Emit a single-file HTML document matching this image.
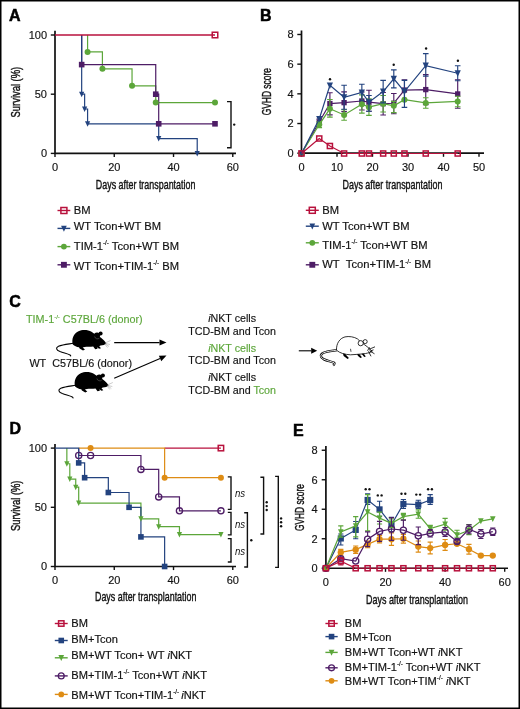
<!DOCTYPE html><html><head><meta charset="utf-8"><style>html,body{margin:0;padding:0;background:#fff;}body{width:520px;height:709px;overflow:hidden;font-family:"Liberation Sans",sans-serif;}svg{display:block;will-change:transform;}</style></head><body><svg width="520" height="709" viewBox="0 0 520 709" font-family="&quot;Liberation Sans&quot;, sans-serif"><style>text{paint-order:stroke;}</style><rect x="0" y="0" width="520" height="709" fill="#fff"/><text x="9" y="20.8" font-size="16" text-anchor="start" font-weight="bold" fill="#000" stroke="#000" stroke-width="0.5">A</text><path d="M55,30.8L55,153.4L236,153.4" fill="none" stroke="#111" stroke-width="1.7"/><path d="M50.8,153.4L55,153.4" stroke="#111" stroke-width="1.4"/><text x="47" y="157.3" font-size="11" text-anchor="end" font-weight="normal" fill="#111" stroke="#111" stroke-width="0.15">0</text><path d="M50.8,94.2L55,94.2" stroke="#111" stroke-width="1.4"/><text x="47" y="98.1" font-size="11" text-anchor="end" font-weight="normal" fill="#111" stroke="#111" stroke-width="0.15">50</text><path d="M50.8,35L55,35" stroke="#111" stroke-width="1.4"/><text x="47" y="38.9" font-size="11" text-anchor="end" font-weight="normal" fill="#111" stroke="#111" stroke-width="0.15">100</text><path d="M55,153.4L55,157" stroke="#111" stroke-width="1.4"/><text x="55" y="171.35" font-size="11" text-anchor="middle" font-weight="normal" fill="#111" stroke="#111" stroke-width="0.15">0</text><path d="M114.26,153.4L114.26,157" stroke="#111" stroke-width="1.4"/><text x="114.26" y="171.35" font-size="11" text-anchor="middle" font-weight="normal" fill="#111" stroke="#111" stroke-width="0.15">20</text><path d="M173.52,153.4L173.52,157" stroke="#111" stroke-width="1.4"/><text x="173.52" y="171.35" font-size="11" text-anchor="middle" font-weight="normal" fill="#111" stroke="#111" stroke-width="0.15">40</text><path d="M232.78,153.4L232.78,157" stroke="#111" stroke-width="1.4"/><text x="232.78" y="171.35" font-size="11" text-anchor="middle" font-weight="normal" fill="#111" stroke="#111" stroke-width="0.15">60</text><text transform="translate(20.2,92.1) rotate(-90)" x="0" y="0" font-size="13" text-anchor="middle" textLength="50.6" lengthAdjust="spacingAndGlyphs" fill="#111" stroke="#111" stroke-width="0.4">Survival (%)</text><text x="95.8" y="188.6" font-size="12.8" text-anchor="start" textLength="99.6" lengthAdjust="spacingAndGlyphs" fill="#111" stroke="#111" stroke-width="0.4">Days after transpantation</text><path d="M87.59,35L87.59,35L87.59,51.93L102.41,51.93L102.41,68.86L132.04,68.86L132.04,85.79L155.74,85.79L155.74,102.61L215,102.61" fill="none" stroke="#5ca63a" stroke-width="1.2"/><path d="M81.67,35L81.67,35L81.67,64.6L155.74,64.6L155.74,94.2L158.7,94.2L158.7,123.8L215,123.8" fill="none" stroke="#4e1d66" stroke-width="1.2"/><path d="M81.67,35L81.67,35L81.67,94.2L84.63,94.2L84.63,109L87.59,109L87.59,123.8L158.7,123.8L158.7,138.6L197.22,138.6L197.22,153.4" fill="none" stroke="#23437f" stroke-width="1.2"/><path d="M55,35L215,35" fill="none" stroke="#b8113c" stroke-width="1.7"/><circle cx="87.59" cy="51.93" r="3" fill="#5ca63a"/><circle cx="102.41" cy="68.86" r="3" fill="#5ca63a"/><circle cx="132.04" cy="85.79" r="3" fill="#5ca63a"/><circle cx="155.74" cy="102.61" r="3" fill="#5ca63a"/><circle cx="215" cy="102.61" r="3" fill="#5ca63a"/><rect x="78.87" y="61.8" width="5.6" height="5.6" fill="#4e1d66"/><rect x="152.94" y="91.4" width="5.6" height="5.6" fill="#4e1d66"/><rect x="155.9" y="121" width="5.6" height="5.6" fill="#4e1d66"/><rect x="212.2" y="121" width="5.6" height="5.6" fill="#4e1d66"/><path d="M79.07,91.7L84.27,91.7L81.67,97.2Z" fill="#23437f"/><path d="M82.03,106.5L87.23,106.5L84.63,112Z" fill="#23437f"/><path d="M84.99,121.3L90.19,121.3L87.59,126.8Z" fill="#23437f"/><path d="M156.1,136.1L161.3,136.1L158.7,141.6Z" fill="#23437f"/><path d="M194.62,150.9L199.82,150.9L197.22,156.4Z" fill="#23437f"/><rect x="212.24" y="32.24" width="5.52" height="5.52" fill="none" stroke="#b8113c" stroke-width="1.5"/><path d="M227,101.6L231,101.6L231,147.8L227,147.8" fill="none" stroke="#111" stroke-width="1.4"/><circle cx="234.2" cy="124.6" r="1.2" fill="#111"/><path d="M57.5,210.5L70.3,210.5" stroke="#b8113c" stroke-width="1.4"/><rect x="60.9" y="207.5" width="6" height="6" fill="none" stroke="#b8113c" stroke-width="1.5"/><text x="73.8" y="213.6" font-size="11.2" fill="#111" stroke="#111" stroke-width="0.18">BM</text><path d="M57.5,228.4L70.3,228.4" stroke="#23437f" stroke-width="1.4"/><path d="M61.04,225.65L66.76,225.65L63.9,231.7Z" fill="#23437f"/><text x="73.8" y="229.7" font-size="11.2" fill="#111" stroke="#111" stroke-width="0.18">WT Tcon+WT BM</text><path d="M57.5,246.6L70.3,246.6" stroke="#5ca63a" stroke-width="1.4"/><circle cx="63.9" cy="246.6" r="2.91" fill="#5ca63a"/><text x="73.8" y="249.9" font-size="11.2" fill="#111" stroke="#111" stroke-width="0.18">TIM-1<tspan font-size="6.3" dy="-4.7">-/-</tspan><tspan dy="4.7"> Tcon+WT BM</tspan></text><path d="M57.5,264.8L70.3,264.8" stroke="#4e1d66" stroke-width="1.4"/><rect x="60.96" y="261.86" width="5.88" height="5.88" fill="#4e1d66"/><text x="73.8" y="269.9" font-size="11.2" fill="#111" stroke="#111" stroke-width="0.18">WT Tcon+TIM-1<tspan font-size="6.3" dy="-4.7">-/-</tspan><tspan dy="4.7"> BM</tspan></text><text x="260" y="20.8" font-size="16" text-anchor="start" font-weight="bold" fill="#000" stroke="#000" stroke-width="0.5">B</text><path d="M301.5,30.5L301.5,153.2L484,153.2" fill="none" stroke="#111" stroke-width="1.7"/><path d="M297.3,153.2L301.5,153.2" stroke="#111" stroke-width="1.4"/><text x="293.5" y="157.1" font-size="11" text-anchor="end" font-weight="normal" fill="#111" stroke="#111" stroke-width="0.15">0</text><path d="M297.3,123.52L301.5,123.52" stroke="#111" stroke-width="1.4"/><text x="293.5" y="127.42" font-size="11" text-anchor="end" font-weight="normal" fill="#111" stroke="#111" stroke-width="0.15">2</text><path d="M297.3,93.84L301.5,93.84" stroke="#111" stroke-width="1.4"/><text x="293.5" y="97.74" font-size="11" text-anchor="end" font-weight="normal" fill="#111" stroke="#111" stroke-width="0.15">4</text><path d="M297.3,64.16L301.5,64.16" stroke="#111" stroke-width="1.4"/><text x="293.5" y="68.06" font-size="11" text-anchor="end" font-weight="normal" fill="#111" stroke="#111" stroke-width="0.15">6</text><path d="M297.3,34.48L301.5,34.48" stroke="#111" stroke-width="1.4"/><text x="293.5" y="38.38" font-size="11" text-anchor="end" font-weight="normal" fill="#111" stroke="#111" stroke-width="0.15">8</text><path d="M301.5,153.2L301.5,156.8" stroke="#111" stroke-width="1.4"/><text x="301.5" y="171.15" font-size="11" text-anchor="middle" font-weight="normal" fill="#111" stroke="#111" stroke-width="0.15">0</text><path d="M337,153.2L337,156.8" stroke="#111" stroke-width="1.4"/><text x="337" y="171.15" font-size="11" text-anchor="middle" font-weight="normal" fill="#111" stroke="#111" stroke-width="0.15">10</text><path d="M372.5,153.2L372.5,156.8" stroke="#111" stroke-width="1.4"/><text x="372.5" y="171.15" font-size="11" text-anchor="middle" font-weight="normal" fill="#111" stroke="#111" stroke-width="0.15">20</text><path d="M408,153.2L408,156.8" stroke="#111" stroke-width="1.4"/><text x="408" y="171.15" font-size="11" text-anchor="middle" font-weight="normal" fill="#111" stroke="#111" stroke-width="0.15">30</text><path d="M443.5,153.2L443.5,156.8" stroke="#111" stroke-width="1.4"/><text x="443.5" y="171.15" font-size="11" text-anchor="middle" font-weight="normal" fill="#111" stroke="#111" stroke-width="0.15">40</text><path d="M479,153.2L479,156.8" stroke="#111" stroke-width="1.4"/><text x="479" y="171.15" font-size="11" text-anchor="middle" font-weight="normal" fill="#111" stroke="#111" stroke-width="0.15">50</text><text transform="translate(271,91.7) rotate(-90)" x="0" y="0" font-size="13" text-anchor="middle" textLength="47.2" lengthAdjust="spacingAndGlyphs" fill="#111" stroke="#111" stroke-width="0.4">GVHD score</text><text x="342.5" y="188.6" font-size="12.8" text-anchor="start" textLength="99.9" lengthAdjust="spacingAndGlyphs" fill="#111" stroke="#111" stroke-width="0.4">Days after transpantation</text><path d="M319.25,119L319.25,122M316.45,119L322.05,119M319.25,122L319.25,125M316.45,125L322.05,125" stroke="#4e1d66" stroke-width="1.15" fill="none"/><path d="M329.9,92.75L329.9,103.55M327.1,92.75L332.7,92.75M329.9,103.55L329.9,114.8M327.1,114.8L332.7,114.8" stroke="#4e1d66" stroke-width="1.15" fill="none"/><path d="M344.1,91.85L344.1,102.65M341.3,91.85L346.9,91.85M344.1,102.65L344.1,111.65M341.3,111.65L346.9,111.65" stroke="#4e1d66" stroke-width="1.15" fill="none"/><path d="M361.85,92L361.85,101M359.05,92L364.65,92M361.85,101L361.85,110M359.05,110L364.65,110" stroke="#4e1d66" stroke-width="1.15" fill="none"/><path d="M368.95,90.2L368.95,102.2M366.15,90.2L371.75,90.2M368.95,102.2L368.95,111.2M366.15,111.2L371.75,111.2" stroke="#4e1d66" stroke-width="1.15" fill="none"/><path d="M383.15,92.45L383.15,103.7M380.35,92.45L385.95,92.45M383.15,103.7L383.15,114.95M380.35,114.95L385.95,114.95" stroke="#4e1d66" stroke-width="1.15" fill="none"/><path d="M393.8,93.5L393.8,103.25M391,93.5L396.6,93.5M393.8,103.25L393.8,113.75M391,113.75L396.6,113.75" stroke="#4e1d66" stroke-width="1.15" fill="none"/><path d="M404.45,79.7L404.45,90.05M401.65,79.7L407.25,79.7M404.45,90.05L404.45,99.8M401.65,99.8L407.25,99.8" stroke="#4e1d66" stroke-width="1.15" fill="none"/><path d="M425.75,74.6L425.75,89.6M422.95,74.6L428.55,74.6M425.75,89.6L425.75,104.6M422.95,104.6L428.55,104.6" stroke="#4e1d66" stroke-width="1.15" fill="none"/><path d="M457.7,79.7L457.7,93.95M454.9,79.7L460.5,79.7M457.7,93.95L457.7,108.2M454.9,108.2L460.5,108.2" stroke="#4e1d66" stroke-width="1.15" fill="none"/><polyline points="301.5,153.5 319.25,122 329.9,103.55 344.1,102.65 361.85,101 368.95,102.2 383.15,103.7 393.8,103.25 404.45,90.05 425.75,89.6 457.7,93.95" fill="none" stroke="#4e1d66" stroke-width="1.2"/><rect x="298.84" y="150.84" width="5.32" height="5.32" fill="#4e1d66"/><rect x="316.59" y="119.34" width="5.32" height="5.32" fill="#4e1d66"/><rect x="327.24" y="100.89" width="5.32" height="5.32" fill="#4e1d66"/><rect x="341.44" y="99.99" width="5.32" height="5.32" fill="#4e1d66"/><rect x="359.19" y="98.34" width="5.32" height="5.32" fill="#4e1d66"/><rect x="366.29" y="99.54" width="5.32" height="5.32" fill="#4e1d66"/><rect x="380.49" y="101.04" width="5.32" height="5.32" fill="#4e1d66"/><rect x="391.14" y="100.59" width="5.32" height="5.32" fill="#4e1d66"/><rect x="401.79" y="87.39" width="5.32" height="5.32" fill="#4e1d66"/><rect x="423.09" y="86.94" width="5.32" height="5.32" fill="#4e1d66"/><rect x="455.04" y="91.29" width="5.32" height="5.32" fill="#4e1d66"/><path d="M319.25,121.55L319.25,124.55M316.45,121.55L322.05,121.55M319.25,124.55L319.25,127.55M316.45,127.55L322.05,127.55" stroke="#5ca63a" stroke-width="1.15" fill="none"/><path d="M329.9,99.5L329.9,108.8M327.1,99.5L332.7,99.5M329.9,108.8L329.9,117.05M327.1,117.05L332.7,117.05" stroke="#5ca63a" stroke-width="1.15" fill="none"/><path d="M344.1,109.7L344.1,114.95M341.3,109.7L346.9,109.7M344.1,114.95L344.1,120.2M341.3,120.2L346.9,120.2" stroke="#5ca63a" stroke-width="1.15" fill="none"/><path d="M361.85,94.85L361.85,104.15M359.05,94.85L364.65,94.85M361.85,104.15L361.85,113.15M359.05,113.15L364.65,113.15" stroke="#5ca63a" stroke-width="1.15" fill="none"/><path d="M368.95,98.9L368.95,107.15M366.15,98.9L371.75,98.9M368.95,107.15L368.95,115.4M366.15,115.4L371.75,115.4" stroke="#5ca63a" stroke-width="1.15" fill="none"/><path d="M383.15,95.45L383.15,103.7M380.35,95.45L385.95,95.45M383.15,103.7L383.15,111.95M380.35,111.95L385.95,111.95" stroke="#5ca63a" stroke-width="1.15" fill="none"/><path d="M393.8,101.3L393.8,105.8M391,101.3L396.6,101.3M393.8,105.8L393.8,112.55M391,112.55L396.6,112.55" stroke="#5ca63a" stroke-width="1.15" fill="none"/><path d="M425.75,97.7L425.75,102.95M422.95,97.7L428.55,97.7M425.75,102.95L425.75,108.2M422.95,108.2L428.55,108.2" stroke="#5ca63a" stroke-width="1.15" fill="none"/><path d="M457.7,96.2L457.7,101.45M454.9,96.2L460.5,96.2M457.7,101.45L457.7,106.7M454.9,106.7L460.5,106.7" stroke="#5ca63a" stroke-width="1.15" fill="none"/><polyline points="301.5,153.5 319.25,124.55 329.9,108.8 344.1,114.95 361.85,104.15 368.95,107.15 383.15,103.7 393.8,105.8 404.45,99.65 425.75,102.95 457.7,101.45" fill="none" stroke="#5ca63a" stroke-width="1.2"/><circle cx="301.5" cy="153.5" r="3" fill="#5ca63a"/><circle cx="319.25" cy="124.55" r="3" fill="#5ca63a"/><circle cx="329.9" cy="108.8" r="3" fill="#5ca63a"/><circle cx="344.1" cy="114.95" r="3" fill="#5ca63a"/><circle cx="361.85" cy="104.15" r="3" fill="#5ca63a"/><circle cx="368.95" cy="107.15" r="3" fill="#5ca63a"/><circle cx="383.15" cy="103.7" r="3" fill="#5ca63a"/><circle cx="393.8" cy="105.8" r="3" fill="#5ca63a"/><circle cx="404.45" cy="99.65" r="3" fill="#5ca63a"/><circle cx="425.75" cy="102.95" r="3" fill="#5ca63a"/><circle cx="457.7" cy="101.45" r="3" fill="#5ca63a"/><path d="M344.1,85.25L344.1,97.25M341.3,85.25L346.9,85.25M344.1,97.25L344.1,109.25M341.3,109.25L346.9,109.25" stroke="#23437f" stroke-width="1.15" fill="none"/><path d="M361.85,84.2L361.85,92.45M359.05,84.2L364.65,84.2M361.85,92.45L361.85,100.7M359.05,100.7L364.65,100.7" stroke="#23437f" stroke-width="1.15" fill="none"/><path d="M368.95,95.45L368.95,102.2M366.15,95.45L371.75,95.45M368.95,102.2L368.95,111.2M366.15,111.2L371.75,111.2" stroke="#23437f" stroke-width="1.15" fill="none"/><path d="M383.15,80.3L383.15,91.55M380.35,80.3L385.95,80.3M383.15,91.55L383.15,102.8M380.35,102.8L385.95,102.8" stroke="#23437f" stroke-width="1.15" fill="none"/><path d="M393.8,69.8L393.8,78.8M391,69.8L396.6,69.8M393.8,78.8L393.8,87.8M391,87.8L396.6,87.8" stroke="#23437f" stroke-width="1.15" fill="none"/><path d="M404.45,80.3L404.45,91.55M401.65,80.3L407.25,80.3M404.45,91.55L404.45,107.3M401.65,107.3L407.25,107.3" stroke="#23437f" stroke-width="1.15" fill="none"/><path d="M425.75,53.6L425.75,65.6M422.95,53.6L428.55,53.6M425.75,65.6L425.75,76.1M422.95,76.1L428.55,76.1" stroke="#23437f" stroke-width="1.15" fill="none"/><path d="M457.7,65.75L457.7,73.25M454.9,65.75L460.5,65.75M457.7,73.25L457.7,80.75M454.9,80.75L460.5,80.75" stroke="#23437f" stroke-width="1.15" fill="none"/><polyline points="301.5,153.5 319.25,119 329.9,85.4 344.1,97.25 361.85,92.45 368.95,102.2 383.15,91.55 393.8,78.8 404.45,91.55 425.75,65.6 457.7,73.25" fill="none" stroke="#23437f" stroke-width="1.2"/><path d="M298.38,150.5L304.62,150.5L301.5,157.1Z" fill="#23437f"/><path d="M316.13,116L322.37,116L319.25,122.6Z" fill="#23437f"/><path d="M326.78,82.4L333.02,82.4L329.9,89Z" fill="#23437f"/><path d="M340.98,94.25L347.22,94.25L344.1,100.85Z" fill="#23437f"/><path d="M358.73,89.45L364.97,89.45L361.85,96.05Z" fill="#23437f"/><path d="M365.83,99.2L372.07,99.2L368.95,105.8Z" fill="#23437f"/><path d="M380.03,88.55L386.27,88.55L383.15,95.15Z" fill="#23437f"/><path d="M390.68,75.8L396.92,75.8L393.8,82.4Z" fill="#23437f"/><path d="M401.33,88.55L407.57,88.55L404.45,95.15Z" fill="#23437f"/><path d="M422.63,62.6L428.87,62.6L425.75,69.2Z" fill="#23437f"/><path d="M454.58,70.25L460.82,70.25L457.7,76.85Z" fill="#23437f"/><polyline points="301.5,153.5 319.25,138.5 329.9,146 344.1,153.5 361.85,153.5 368.95,153.5 383.15,153.5 393.8,153.5 404.45,153.5 425.75,153.5 457.7,153.5" fill="none" stroke="#b8113c" stroke-width="1.2"/><rect x="298.95" y="150.95" width="5.1" height="5.1" fill="none" stroke="#b8113c" stroke-width="1.5"/><rect x="316.7" y="135.95" width="5.1" height="5.1" fill="none" stroke="#b8113c" stroke-width="1.5"/><rect x="327.35" y="143.45" width="5.1" height="5.1" fill="none" stroke="#b8113c" stroke-width="1.5"/><rect x="341.55" y="150.95" width="5.1" height="5.1" fill="none" stroke="#b8113c" stroke-width="1.5"/><rect x="359.3" y="150.95" width="5.1" height="5.1" fill="none" stroke="#b8113c" stroke-width="1.5"/><rect x="366.4" y="150.95" width="5.1" height="5.1" fill="none" stroke="#b8113c" stroke-width="1.5"/><rect x="380.6" y="150.95" width="5.1" height="5.1" fill="none" stroke="#b8113c" stroke-width="1.5"/><rect x="391.25" y="150.95" width="5.1" height="5.1" fill="none" stroke="#b8113c" stroke-width="1.5"/><rect x="401.9" y="150.95" width="5.1" height="5.1" fill="none" stroke="#b8113c" stroke-width="1.5"/><rect x="423.2" y="150.95" width="5.1" height="5.1" fill="none" stroke="#b8113c" stroke-width="1.5"/><rect x="455.15" y="150.95" width="5.1" height="5.1" fill="none" stroke="#b8113c" stroke-width="1.5"/><circle cx="330" cy="79.2" r="1.2" fill="#111"/><circle cx="393.7" cy="64.7" r="1.2" fill="#111"/><circle cx="426.1" cy="48.5" r="1.2" fill="#111"/><circle cx="457.9" cy="60.8" r="1.2" fill="#111"/><path d="M305.8,210.3L318.8,210.3" stroke="#b8113c" stroke-width="1.4"/><rect x="309.3" y="207.3" width="6" height="6" fill="none" stroke="#b8113c" stroke-width="1.5"/><text x="322.2" y="213.7" font-size="11.2" fill="#111" stroke="#111" stroke-width="0.18">BM</text><path d="M305.8,226.2L318.8,226.2" stroke="#23437f" stroke-width="1.4"/><path d="M309.44,223.45L315.16,223.45L312.3,229.5Z" fill="#23437f"/><text x="322.2" y="229.6" font-size="11.2" fill="#111" stroke="#111" stroke-width="0.18">WT Tcon+WT BM</text><path d="M305.8,242.8L318.8,242.8" stroke="#5ca63a" stroke-width="1.4"/><circle cx="312.3" cy="242.8" r="2.91" fill="#5ca63a"/><text x="322.2" y="248.6" font-size="11.2" fill="#111" stroke="#111" stroke-width="0.18">TIM-1<tspan font-size="6.3" dy="-4.7">-/-</tspan><tspan dy="4.7"> Tcon+WT BM</tspan></text><path d="M305.8,264.8L318.8,264.8" stroke="#4e1d66" stroke-width="1.4"/><rect x="309.36" y="261.86" width="5.88" height="5.88" fill="#4e1d66"/><text x="322.2" y="268.2" font-size="11.2" fill="#111" stroke="#111" stroke-width="0.18">WT&#160;&#160;Tcon+TIM-1<tspan font-size="6.3" dy="-4.7">-/-</tspan><tspan dy="4.7"> BM</tspan></text><text x="9.3" y="307" font-size="16" text-anchor="start" font-weight="bold" fill="#000" stroke="#000" stroke-width="0.5">C</text><text x="26" y="322.7" font-size="10.8" fill="#5ca63a" stroke="#5ca63a" stroke-width="0.15">TIM-1<tspan font-size="6" dy="-4">-/-</tspan><tspan dy="4"> C57BL/6 (donor)</tspan></text><text x="29.4" y="367.3" font-size="10.8" fill="#111" stroke="#111" stroke-width="0.15">WT&#160;&#160;C57BL/6 (donor)</text><g transform="translate(72,330)"><path d="M0.8,14.5 C-0.6,9 1.5,3.5 6.5,1.2 C10,-0.4 16,-0.4 19.5,1.8 L22.7,4.1 C26,5.5 29,7.5 31,9.5 C32.5,11 33.5,12.3 34.4,13.4 C33,14.6 31,15.2 28.5,15.5 L27.2,16.2 L29,18.3 L27,18.8 L25.2,17.3 L25.5,18.8 L23.2,19.2 L21.2,16.6 C18.5,16.8 15,16.9 12.5,17.1 L10.6,17.4 L13,19.6 L11,20.4 L7.6,18.4 L7,17.3 C4.5,17 2.5,16 0.8,14.5 Z" fill="#000"/><circle cx="25" cy="5.6" r="3.1" fill="#000"/><circle cx="28.6" cy="3.6" r="2.0" fill="#000"/><path d="M22.6,6.5 A3,3 0 0 0 27.4,8.2" fill="none" stroke="#777" stroke-width="0.5"/><path d="M1.5,13.3 C-4,14.2 -9,14.6 -13.5,16.2 C-16.5,17.5 -16,20 -12,21.6 C-8,23 -4,24 -2,25 C-1.2,25.5 -1.2,26 -1.5,26.4" fill="none" stroke="#000" stroke-width="1.1"/><path d="M33.5,12.8 L38.5,10.5 M33.8,13.6 L38,14.5 M32.8,14 L35.5,17.5 M33,13.5 L37,16.5" stroke="#aaa" stroke-width="0.6"/></g><g transform="translate(74.3,372)"><path d="M0.8,14.5 C-0.6,9 1.5,3.5 6.5,1.2 C10,-0.4 16,-0.4 19.5,1.8 L22.7,4.1 C26,5.5 29,7.5 31,9.5 C32.5,11 33.5,12.3 34.4,13.4 C33,14.6 31,15.2 28.5,15.5 L27.2,16.2 L29,18.3 L27,18.8 L25.2,17.3 L25.5,18.8 L23.2,19.2 L21.2,16.6 C18.5,16.8 15,16.9 12.5,17.1 L10.6,17.4 L13,19.6 L11,20.4 L7.6,18.4 L7,17.3 C4.5,17 2.5,16 0.8,14.5 Z" fill="#000"/><circle cx="25" cy="5.6" r="3.1" fill="#000"/><circle cx="28.6" cy="3.6" r="2.0" fill="#000"/><path d="M22.6,6.5 A3,3 0 0 0 27.4,8.2" fill="none" stroke="#777" stroke-width="0.5"/><path d="M1.5,13.3 C-4,14.2 -9,14.6 -13.5,16.2 C-16.5,17.5 -16,20 -12,21.6 C-8,23 -4,24 -2,25 C-1.2,25.5 -1.2,26 -1.5,26.4" fill="none" stroke="#000" stroke-width="1.1"/><path d="M33.5,12.8 L38.5,10.5 M33.8,13.6 L38,14.5 M32.8,14 L35.5,17.5 M33,13.5 L37,16.5" stroke="#aaa" stroke-width="0.6"/></g><path d="M114.2,342.6L159.5,342.6" stroke="#000" stroke-width="1.1"/><path d="M166.5,342.6L159.5,345.6L159.5,339.6Z" fill="#000"/><path d="M114.2,378.3L160.08,358.39" stroke="#000" stroke-width="1.1"/><path d="M166.5,355.6L161.27,361.14L158.88,355.64Z" fill="#000"/><path d="M298.8,350.8L311.2,350.8" stroke="#000" stroke-width="1.1"/><path d="M317.2,350.8L311.2,353.8L311.2,347.8Z" fill="#000"/><text x="232.1" y="321.7" font-size="10.7" text-anchor="middle" fill="#111" stroke="#111" stroke-width="0.15"><tspan font-style="italic">i</tspan>NKT cells</text><text x="232.1" y="334.5" font-size="10.7" text-anchor="middle" fill="#111" stroke="#111" stroke-width="0.15">TCD-BM and Tcon</text><text x="232.1" y="351.5" font-size="10.7" text-anchor="middle" fill="#5ca63a" stroke="#5ca63a" stroke-width="0.15"><tspan font-style="italic">i</tspan>NKT cells</text><text x="232.1" y="364.3" font-size="10.7" text-anchor="middle" fill="#111" stroke="#111" stroke-width="0.15">TCD-BM and Tcon</text><text x="232.1" y="380.9" font-size="10.7" text-anchor="middle" fill="#111" stroke="#111" stroke-width="0.15"><tspan font-style="italic">i</tspan>NKT cells</text><text x="232.1" y="393.6" font-size="10.7" text-anchor="middle" fill="#111" stroke="#111" stroke-width="0.15">TCD-BM and <tspan fill="#5ca63a" stroke="#5ca63a">Tcon</tspan></text><g transform="translate(336,336.3)"><path d="M1,13.8 C-4,14.6 -9,15 -12.5,16.5 C-16,18 -16,21 -12.5,22.8 C-9,24.5 -4,25.5 -1.8,26.5 C-1.2,27.3 -1.8,28.3 -2.8,29.2" fill="none" stroke="#000" stroke-width="2.3"/><path d="M1,13.8 C-4,14.6 -9,15 -12.5,16.5 C-16,18 -16,21 -12.5,22.8 C-9,24.5 -4,25.5 -1.8,26.5 C-1.2,27.3 -1.8,28.3 -2.8,29.2" fill="none" stroke="#fff" stroke-width="0.9"/><path d="M0.5,13.9 C0.2,7.5 3.5,2 9,0.6 C13,-0.3 18,0.5 21.5,2.6 L24,5 C27,7.5 31,10 33,12 C34.5,13.3 35.5,14.2 36.2,15 C34.5,16.3 32,16.7 29.5,17.2 L27,17.6 C23,17.9 19,18.3 14.5,18.5 C9,18.2 4,17 0.5,13.9 Z" fill="#fff" stroke="#000" stroke-width="0.8"/><circle cx="24.7" cy="6.9" r="2.6" fill="#fff" stroke="#000" stroke-width="0.8"/><circle cx="29.2" cy="5.3" r="2.0" fill="#fff" stroke="#000" stroke-width="0.8"/><path d="M14.5,12.5 L15,15.5" stroke="#000" stroke-width="0.7"/><path d="M7,17.3 L9.2,17.8 L12.9,21.6 L11.6,22.6 L7.6,19.6Z M21.3,17.6 L23.4,17.9 L26,21 L24.4,21.7 L21.8,19.4Z M25.6,17.4 L27.6,17.3 L29.8,20.1 L28.2,20.8Z" fill="#000"/><path d="M33,13 L39,10.5 M33.5,14.5 L38.5,17.5 M32.5,15 L35,20 M31.5,14.5 L33.5,11 M34,15 L37.5,13.5" stroke="#000" stroke-width="0.8"/></g><text x="9.5" y="434" font-size="16" text-anchor="start" font-weight="bold" fill="#000" stroke="#000" stroke-width="0.5">D</text><path d="M55,444L55,566.5L236,566.5" fill="none" stroke="#111" stroke-width="1.7"/><path d="M50.8,566.5L55,566.5" stroke="#111" stroke-width="1.4"/><text x="47" y="570.4" font-size="11" text-anchor="end" font-weight="normal" fill="#111" stroke="#111" stroke-width="0.15">0</text><path d="M50.8,507.3L55,507.3" stroke="#111" stroke-width="1.4"/><text x="47" y="511.2" font-size="11" text-anchor="end" font-weight="normal" fill="#111" stroke="#111" stroke-width="0.15">50</text><path d="M50.8,448.1L55,448.1" stroke="#111" stroke-width="1.4"/><text x="47" y="452" font-size="11" text-anchor="end" font-weight="normal" fill="#111" stroke="#111" stroke-width="0.15">100</text><path d="M55,566.5L55,570.1" stroke="#111" stroke-width="1.4"/><text x="55" y="584.45" font-size="11" text-anchor="middle" font-weight="normal" fill="#111" stroke="#111" stroke-width="0.15">0</text><path d="M114.26,566.5L114.26,570.1" stroke="#111" stroke-width="1.4"/><text x="114.26" y="584.45" font-size="11" text-anchor="middle" font-weight="normal" fill="#111" stroke="#111" stroke-width="0.15">20</text><path d="M173.52,566.5L173.52,570.1" stroke="#111" stroke-width="1.4"/><text x="173.52" y="584.45" font-size="11" text-anchor="middle" font-weight="normal" fill="#111" stroke="#111" stroke-width="0.15">40</text><path d="M232.78,566.5L232.78,570.1" stroke="#111" stroke-width="1.4"/><text x="232.78" y="584.45" font-size="11" text-anchor="middle" font-weight="normal" fill="#111" stroke="#111" stroke-width="0.15">60</text><text transform="translate(20.2,505.8) rotate(-90)" x="0" y="0" font-size="13" text-anchor="middle" textLength="50.6" lengthAdjust="spacingAndGlyphs" fill="#111" stroke="#111" stroke-width="0.4">Survival (%)</text><text x="95" y="601.4" font-size="12.8" text-anchor="start" textLength="101.4" lengthAdjust="spacingAndGlyphs" fill="#111" stroke="#111" stroke-width="0.4">Days after transplantation</text><path d="M164.63,448.1L220.93,448.1" fill="none" stroke="#b8113c" stroke-width="1.3"/><path d="M78.7,448.1L78.7,448.1L78.7,455.5L140.93,455.5L140.93,469.41L158.7,469.41L158.7,496.88L179.45,496.88L179.45,510.85L220.93,510.85" fill="none" stroke="#4e1d66" stroke-width="1.2"/><path d="M66.85,448.1L66.85,448.1L66.85,463.73L69.81,463.73L69.81,479.12L75.74,479.12L75.74,487.17L78.7,487.17L78.7,503.04L140.93,503.04L140.93,518.78L158.7,518.78L158.7,526.72L179.45,526.72L179.45,534.53L220.93,534.53" fill="none" stroke="#5ca63a" stroke-width="1.2"/><path d="M78.7,448.1L164.63,448.1L164.63,477.7L220.93,477.7" fill="none" stroke="#de8c14" stroke-width="1.2"/><path d="M55,448.1L78.7,448.1L78.7,462.9L84.63,462.9L84.63,477.7L108.33,477.7L108.33,492.5L129.07,492.5L129.07,507.3L140.93,507.3L140.93,536.9L164.63,536.9L164.63,566.5" fill="none" stroke="#23437f" stroke-width="1.2"/><rect x="218.23" y="445.4" width="5.4" height="5.4" fill="none" stroke="#b8113c" stroke-width="1.5"/><circle cx="78.7" cy="455.5" r="3.1" fill="none" stroke="#4e1d66" stroke-width="1.3"/><circle cx="90.56" cy="455.5" r="3.1" fill="none" stroke="#4e1d66" stroke-width="1.3"/><circle cx="140.93" cy="469.41" r="3.1" fill="none" stroke="#4e1d66" stroke-width="1.3"/><circle cx="158.7" cy="496.88" r="3.1" fill="none" stroke="#4e1d66" stroke-width="1.3"/><circle cx="179.45" cy="510.85" r="3.1" fill="none" stroke="#4e1d66" stroke-width="1.3"/><circle cx="220.93" cy="510.85" r="3.1" fill="none" stroke="#4e1d66" stroke-width="1.3"/><path d="M64.25,461.23L69.45,461.23L66.85,466.73Z" fill="#5ca63a"/><path d="M67.22,476.62L72.41,476.62L69.81,482.12Z" fill="#5ca63a"/><path d="M73.14,484.67L78.34,484.67L75.74,490.17Z" fill="#5ca63a"/><path d="M76.1,500.54L81.3,500.54L78.7,506.04Z" fill="#5ca63a"/><path d="M138.33,516.28L143.53,516.28L140.93,521.78Z" fill="#5ca63a"/><path d="M156.1,524.22L161.3,524.22L158.7,529.72Z" fill="#5ca63a"/><path d="M176.85,532.03L182.05,532.03L179.45,537.53Z" fill="#5ca63a"/><path d="M218.33,532.03L223.53,532.03L220.93,537.53Z" fill="#5ca63a"/><circle cx="90.56" cy="448.1" r="3" fill="#de8c14"/><circle cx="164.63" cy="477.7" r="3" fill="#de8c14"/><circle cx="220.93" cy="477.7" r="3" fill="#de8c14"/><rect x="75.9" y="460.1" width="5.6" height="5.6" fill="#23437f"/><rect x="81.83" y="474.9" width="5.6" height="5.6" fill="#23437f"/><rect x="105.53" y="489.7" width="5.6" height="5.6" fill="#23437f"/><rect x="126.27" y="504.5" width="5.6" height="5.6" fill="#23437f"/><rect x="138.13" y="534.1" width="5.6" height="5.6" fill="#23437f"/><rect x="161.83" y="563.7" width="5.6" height="5.6" fill="#23437f"/><path d="M227.8,476.9L231,476.9L231,509.4L227.8,509.4" fill="none" stroke="#111" stroke-width="1.4"/><path d="M227.8,512.4L231,512.4L231,534.9L227.8,534.9" fill="none" stroke="#111" stroke-width="1.4"/><path d="M227.8,538.6L231,538.6L231,562L227.8,562" fill="none" stroke="#111" stroke-width="1.4"/><path d="M244.2,512.8L247.4,512.8L247.4,567L244.2,567" fill="none" stroke="#111" stroke-width="1.4"/><path d="M260.4,477.2L263.6,477.2L263.6,534L260.4,534" fill="none" stroke="#111" stroke-width="1.4"/><path d="M275.1,476.4L278.3,476.4L278.3,567.4L275.1,567.4" fill="none" stroke="#111" stroke-width="1.4"/><text x="234.9" y="497.4" font-size="11" text-anchor="start" font-weight="normal" fill="#111" font-style="italic" textLength="10.2" lengthAdjust="spacingAndGlyphs">ns</text><text x="234.9" y="527.8" font-size="11" text-anchor="start" font-weight="normal" fill="#111" font-style="italic" textLength="10.2" lengthAdjust="spacingAndGlyphs">ns</text><text x="234.9" y="554.9" font-size="11" text-anchor="start" font-weight="normal" fill="#111" font-style="italic" textLength="10.2" lengthAdjust="spacingAndGlyphs">ns</text><circle cx="251.3" cy="540.2" r="1.2" fill="#111"/><circle cx="266.7" cy="502.2" r="1.2" fill="#111"/><circle cx="266.7" cy="506.1" r="1.2" fill="#111"/><circle cx="266.7" cy="510" r="1.2" fill="#111"/><circle cx="281.1" cy="518.4" r="1.2" fill="#111"/><circle cx="281.1" cy="522.3" r="1.2" fill="#111"/><circle cx="281.1" cy="526.2" r="1.2" fill="#111"/><path d="M54.8,623.5L67.7,623.5" stroke="#b8113c" stroke-width="1.4"/><rect x="58.55" y="620.8" width="5.4" height="5.4" fill="none" stroke="#b8113c" stroke-width="1.5"/><text x="71.3" y="626.8" font-size="11.1" fill="#111" stroke="#111" stroke-width="0.18">BM</text><path d="M54.8,640.5L67.7,640.5" stroke="#23437f" stroke-width="1.4"/><rect x="58.45" y="637.7" width="5.6" height="5.6" fill="#23437f"/><text x="71.3" y="643" font-size="11.1" fill="#111" stroke="#111" stroke-width="0.18">BM+Tcon</text><path d="M54.8,657.8L67.7,657.8" stroke="#5ca63a" stroke-width="1.4"/><path d="M58.39,655.05L64.11,655.05L61.25,661.1Z" fill="#5ca63a"/><text x="71.3" y="658.8" font-size="11.1" fill="#111" stroke="#111" stroke-width="0.18">BM+WT Tcon+ WT <tspan font-style="italic">i</tspan>NKT</text><path d="M54.8,675.9L67.7,675.9" stroke="#4e1d66" stroke-width="1.4"/><circle cx="61.25" cy="675.9" r="2.94" fill="none" stroke="#4e1d66" stroke-width="1.3"/><text x="71.3" y="678.9" font-size="11.1" fill="#111" stroke="#111" stroke-width="0.18">BM+TIM-1<tspan font-size="6.3" dy="-4.7">-/-</tspan><tspan dy="4.7"> Tcon+WT </tspan><tspan font-style="italic">i</tspan>NKT</text><path d="M54.8,694.4L67.7,694.4" stroke="#de8c14" stroke-width="1.4"/><circle cx="61.25" cy="694.4" r="2.85" fill="#de8c14"/><text x="71.3" y="699.1" font-size="11.1" fill="#111" stroke="#111" stroke-width="0.18">BM+WT Tcon+TIM-1<tspan font-size="6.3" dy="-4.7">-/-</tspan><tspan dx="2.0" dy="4.7" font-style="italic">i</tspan>NKT</text><text x="293" y="435.9" font-size="16" text-anchor="start" font-weight="bold" fill="#000" stroke="#000" stroke-width="0.5">E</text><path d="M325.9,446L325.9,568.25L508,568.25" fill="none" stroke="#111" stroke-width="1.7"/><path d="M321.7,568.25L325.9,568.25" stroke="#111" stroke-width="1.4"/><text x="317.5" y="572.15" font-size="11" text-anchor="end" font-weight="normal" fill="#111" stroke="#111" stroke-width="0.15">0</text><path d="M321.7,538.75L325.9,538.75" stroke="#111" stroke-width="1.4"/><text x="317.5" y="542.65" font-size="11" text-anchor="end" font-weight="normal" fill="#111" stroke="#111" stroke-width="0.15">2</text><path d="M321.7,509.25L325.9,509.25" stroke="#111" stroke-width="1.4"/><text x="317.5" y="513.15" font-size="11" text-anchor="end" font-weight="normal" fill="#111" stroke="#111" stroke-width="0.15">4</text><path d="M321.7,479.75L325.9,479.75" stroke="#111" stroke-width="1.4"/><text x="317.5" y="483.65" font-size="11" text-anchor="end" font-weight="normal" fill="#111" stroke="#111" stroke-width="0.15">6</text><path d="M321.7,450.25L325.9,450.25" stroke="#111" stroke-width="1.4"/><text x="317.5" y="454.15" font-size="11" text-anchor="end" font-weight="normal" fill="#111" stroke="#111" stroke-width="0.15">8</text><path d="M325.9,568.25L325.9,571.85" stroke="#111" stroke-width="1.4"/><text x="325.9" y="586.2" font-size="11" text-anchor="middle" font-weight="normal" fill="#111" stroke="#111" stroke-width="0.15">0</text><path d="M385.5,568.25L385.5,571.85" stroke="#111" stroke-width="1.4"/><text x="385.5" y="586.2" font-size="11" text-anchor="middle" font-weight="normal" fill="#111" stroke="#111" stroke-width="0.15">20</text><path d="M445.1,568.25L445.1,571.85" stroke="#111" stroke-width="1.4"/><text x="445.1" y="586.2" font-size="11" text-anchor="middle" font-weight="normal" fill="#111" stroke="#111" stroke-width="0.15">40</text><path d="M504.7,568.25L504.7,571.85" stroke="#111" stroke-width="1.4"/><text x="504.7" y="586.2" font-size="11" text-anchor="middle" font-weight="normal" fill="#111" stroke="#111" stroke-width="0.15">60</text><text transform="translate(304.1,507.6) rotate(-90)" x="0" y="0" font-size="13" text-anchor="middle" textLength="47" lengthAdjust="spacingAndGlyphs" fill="#111" stroke="#111" stroke-width="0.4">GVHD score</text><text x="366" y="603.6" font-size="12.8" text-anchor="start" textLength="102" lengthAdjust="spacingAndGlyphs" fill="#111" stroke="#111" stroke-width="0.4">Days after transplantation</text><path d="M340.8,534.03L340.8,538.46M338.2,534.03L343.4,534.03M340.8,538.46L340.8,544.95M338.2,544.95L343.4,544.95" stroke="#23437f" stroke-width="1.15" fill="none"/><path d="M355.7,521.49L355.7,529.9M353.1,521.49L358.3,521.49M355.7,529.9L355.7,538.75M353.1,538.75L358.3,538.75" stroke="#23437f" stroke-width="1.15" fill="none"/><path d="M367.62,493.76L367.62,499.96M365.02,493.76L370.22,493.76M367.62,499.96L367.62,504.38M365.02,504.38L370.22,504.38" stroke="#23437f" stroke-width="1.15" fill="none"/><path d="M379.54,501.28L379.54,509.4M376.94,501.28L382.14,501.28M379.54,509.4L379.54,516.33M376.94,516.33L382.14,516.33" stroke="#23437f" stroke-width="1.15" fill="none"/><path d="M391.46,517.36L391.46,524.74M388.86,517.36L394.06,517.36M391.46,524.74L391.46,532.11M388.86,532.11L394.06,532.11" stroke="#23437f" stroke-width="1.15" fill="none"/><path d="M403.38,499.51L403.38,503.94M400.78,499.51L405.98,499.51M403.38,503.94L403.38,508.37M400.78,508.37L405.98,508.37" stroke="#23437f" stroke-width="1.15" fill="none"/><path d="M418.28,500.25L418.28,504.68M415.68,500.25L420.88,500.25M418.28,504.68L418.28,508.37M415.68,508.37L420.88,508.37" stroke="#23437f" stroke-width="1.15" fill="none"/><path d="M430.2,494.65L430.2,499.96M427.6,494.65L432.8,494.65M430.2,499.96L430.2,504.38M427.6,504.38L432.8,504.38" stroke="#23437f" stroke-width="1.15" fill="none"/><polyline points="325.9,568.25 340.8,538.46 355.7,529.9 367.62,499.96 379.54,509.4 391.46,524.74 403.38,503.94 418.28,504.68 430.2,499.96" fill="none" stroke="#23437f" stroke-width="1.2"/><rect x="322.82" y="565.17" width="6.16" height="6.16" fill="#23437f"/><rect x="337.72" y="535.38" width="6.16" height="6.16" fill="#23437f"/><rect x="352.62" y="526.82" width="6.16" height="6.16" fill="#23437f"/><rect x="364.54" y="496.88" width="6.16" height="6.16" fill="#23437f"/><rect x="376.46" y="506.32" width="6.16" height="6.16" fill="#23437f"/><rect x="388.38" y="521.66" width="6.16" height="6.16" fill="#23437f"/><rect x="400.3" y="500.86" width="6.16" height="6.16" fill="#23437f"/><rect x="415.2" y="501.6" width="6.16" height="6.16" fill="#23437f"/><rect x="427.12" y="496.88" width="6.16" height="6.16" fill="#23437f"/><path d="M340.8,549.37L340.8,552.32M338.2,549.37L343.4,549.37M340.8,552.32L340.8,555.27M338.2,555.27L343.4,555.27" stroke="#de8c14" stroke-width="1.15" fill="none"/><path d="M355.7,545.98L355.7,549.66M353.1,545.98L358.3,545.98M355.7,549.66L355.7,553.35M353.1,553.35L358.3,553.35" stroke="#de8c14" stroke-width="1.15" fill="none"/><path d="M367.62,540.96L367.62,544.36M365.02,540.96L370.22,540.96M367.62,544.36L367.62,547.75M365.02,547.75L370.22,547.75" stroke="#de8c14" stroke-width="1.15" fill="none"/><path d="M379.54,535.5L379.54,539.19M376.94,535.5L382.14,535.5M379.54,539.19L379.54,542.88M376.94,542.88L382.14,542.88" stroke="#de8c14" stroke-width="1.15" fill="none"/><path d="M391.46,533L391.46,539.19M388.86,533L394.06,533M391.46,539.19L391.46,545.39M388.86,545.39L394.06,545.39" stroke="#de8c14" stroke-width="1.15" fill="none"/><path d="M403.38,534.33L403.38,538.75M400.78,534.33L405.98,534.33M403.38,538.75L403.38,543.17M400.78,543.17L405.98,543.17" stroke="#de8c14" stroke-width="1.15" fill="none"/><path d="M418.28,540.96L418.28,546.57M415.68,540.96L420.88,540.96M418.28,546.57L418.28,552.17M415.68,552.17L420.88,552.17" stroke="#de8c14" stroke-width="1.15" fill="none"/><path d="M430.2,542.14L430.2,548.04M427.6,542.14L432.8,542.14M430.2,548.04L430.2,553.94M427.6,553.94L432.8,553.94" stroke="#de8c14" stroke-width="1.15" fill="none"/><path d="M445.1,539.49L445.1,544.95M442.5,539.49L447.7,539.49M445.1,544.95L445.1,550.4M442.5,550.4L447.7,550.4" stroke="#de8c14" stroke-width="1.15" fill="none"/><path d="M457.02,542.29L457.02,543.76M454.42,542.29L459.62,542.29M457.02,543.76L457.02,545.24M454.42,545.24L459.62,545.24" stroke="#de8c14" stroke-width="1.15" fill="none"/><path d="M468.94,544.36L468.94,549.22M466.34,544.36L471.54,544.36M468.94,549.22L468.94,554.09M466.34,554.09L471.54,554.09" stroke="#de8c14" stroke-width="1.15" fill="none"/><polyline points="325.9,568.25 340.8,552.32 355.7,549.66 367.62,544.36 379.54,539.19 391.46,539.19 403.38,538.75 418.28,546.57 430.2,548.04 445.1,544.95 457.02,543.76 468.94,549.22 480.86,555.57 492.78,555.57" fill="none" stroke="#de8c14" stroke-width="1.2"/><circle cx="325.9" cy="568.25" r="3.15" fill="#de8c14"/><circle cx="340.8" cy="552.32" r="3.15" fill="#de8c14"/><circle cx="355.7" cy="549.66" r="3.15" fill="#de8c14"/><circle cx="367.62" cy="544.36" r="3.15" fill="#de8c14"/><circle cx="379.54" cy="539.19" r="3.15" fill="#de8c14"/><circle cx="391.46" cy="539.19" r="3.15" fill="#de8c14"/><circle cx="403.38" cy="538.75" r="3.15" fill="#de8c14"/><circle cx="418.28" cy="546.57" r="3.15" fill="#de8c14"/><circle cx="430.2" cy="548.04" r="3.15" fill="#de8c14"/><circle cx="445.1" cy="544.95" r="3.15" fill="#de8c14"/><circle cx="457.02" cy="543.76" r="3.15" fill="#de8c14"/><circle cx="468.94" cy="549.22" r="3.15" fill="#de8c14"/><circle cx="480.86" cy="555.57" r="3.15" fill="#de8c14"/><circle cx="492.78" cy="555.57" r="3.15" fill="#de8c14"/><path d="M340.8,525.92L340.8,531.97M338.2,525.92L343.4,525.92M340.8,531.97L340.8,537.13M338.2,537.13L343.4,537.13" stroke="#5ca63a" stroke-width="1.15" fill="none"/><path d="M355.7,516.62L355.7,525.92M353.1,516.62L358.3,516.62M355.7,525.92L355.7,536.83M353.1,536.83L358.3,536.83" stroke="#5ca63a" stroke-width="1.15" fill="none"/><path d="M367.62,494.65L367.62,512.05M365.02,494.65L370.22,494.65M367.62,512.05L367.62,530.93M365.02,530.93L370.22,530.93" stroke="#5ca63a" stroke-width="1.15" fill="none"/><path d="M379.54,512.05L379.54,518.1M376.94,512.05L382.14,512.05M379.54,518.1L379.54,524M376.94,524L382.14,524" stroke="#5ca63a" stroke-width="1.15" fill="none"/><path d="M391.46,518.84L391.46,523.26M388.86,518.84L394.06,518.84M391.46,523.26L391.46,527.69M388.86,527.69L394.06,527.69" stroke="#5ca63a" stroke-width="1.15" fill="none"/><path d="M403.38,513.38L403.38,516.62M400.78,513.38L405.98,513.38M403.38,516.62L403.38,519.87M400.78,519.87L405.98,519.87" stroke="#5ca63a" stroke-width="1.15" fill="none"/><path d="M418.28,509.84L418.28,514.26M415.68,509.84L420.88,509.84M418.28,514.26L418.28,518.25M415.68,518.25L420.88,518.25" stroke="#5ca63a" stroke-width="1.15" fill="none"/><path d="M430.2,525.33L430.2,528.57M427.6,525.33L432.8,525.33M430.2,528.57L430.2,531.97M427.6,531.97L432.8,531.97" stroke="#5ca63a" stroke-width="1.15" fill="none"/><path d="M445.1,518.39L445.1,524.15M442.5,518.39L447.7,518.39M445.1,524.15L445.1,530.2M442.5,530.2L447.7,530.2" stroke="#5ca63a" stroke-width="1.15" fill="none"/><path d="M457.02,530.2L457.02,535.06M454.42,530.2L459.62,530.2M457.02,535.06L457.02,537.27M454.42,537.27L459.62,537.27" stroke="#5ca63a" stroke-width="1.15" fill="none"/><path d="M468.94,524.59L468.94,530.2M466.34,524.59L471.54,524.59M468.94,530.2L468.94,534.62M466.34,534.62L471.54,534.62" stroke="#5ca63a" stroke-width="1.15" fill="none"/><polyline points="325.9,568.25 340.8,531.97 355.7,525.92 367.62,512.05 379.54,518.1 391.46,523.26 403.38,516.62 418.28,514.26 430.2,528.57 445.1,524.15 457.02,535.06 468.94,530.2 480.86,521.05 492.78,518.84" fill="none" stroke="#5ca63a" stroke-width="1.2"/><path d="M323.09,565.55L328.71,565.55L325.9,571.49Z" fill="#5ca63a"/><path d="M337.99,529.26L343.61,529.26L340.8,535.21Z" fill="#5ca63a"/><path d="M352.89,523.22L358.51,523.22L355.7,529.16Z" fill="#5ca63a"/><path d="M364.81,509.35L370.43,509.35L367.62,515.29Z" fill="#5ca63a"/><path d="M376.73,515.4L382.35,515.4L379.54,521.34Z" fill="#5ca63a"/><path d="M388.65,520.56L394.27,520.56L391.46,526.5Z" fill="#5ca63a"/><path d="M400.57,513.92L406.19,513.92L403.38,519.87Z" fill="#5ca63a"/><path d="M415.47,511.56L421.09,511.56L418.28,517.5Z" fill="#5ca63a"/><path d="M427.39,525.87L433.01,525.87L430.2,531.81Z" fill="#5ca63a"/><path d="M442.29,521.45L447.91,521.45L445.1,527.39Z" fill="#5ca63a"/><path d="M454.21,532.36L459.83,532.36L457.02,538.3Z" fill="#5ca63a"/><path d="M466.13,527.5L471.75,527.5L468.94,533.44Z" fill="#5ca63a"/><path d="M478.05,518.35L483.67,518.35L480.86,524.29Z" fill="#5ca63a"/><path d="M489.97,516.14L495.59,516.14L492.78,522.08Z" fill="#5ca63a"/><path d="M340.8,557.19L340.8,555.56M338.2,557.19L343.4,557.19M340.8,561.76L340.8,560.14M338.2,560.14L343.4,560.14" stroke="#4e1d66" stroke-width="1.15" fill="none"/><path d="M367.62,531.82L367.62,536.09M365.02,531.82L370.22,531.82M367.62,542.29L367.62,546.57M365.02,546.57L370.22,546.57" stroke="#4e1d66" stroke-width="1.15" fill="none"/><path d="M379.54,521.35L379.54,528.27M376.94,521.35L382.14,521.35M379.54,534.48L379.54,541.4M376.94,541.4L382.14,541.4" stroke="#4e1d66" stroke-width="1.15" fill="none"/><path d="M391.46,517.66L391.46,525.91M388.86,517.66L394.06,517.66M391.46,532.12L391.46,540.37M388.86,540.37L394.06,540.37" stroke="#4e1d66" stroke-width="1.15" fill="none"/><path d="M403.38,520.16L403.38,527.1M400.78,520.16L405.98,520.16M403.38,533.3L403.38,540.23M400.78,540.23L405.98,540.23" stroke="#4e1d66" stroke-width="1.15" fill="none"/><path d="M418.28,526.95L418.28,532.7M415.68,526.95L420.88,526.95M418.28,538.9L418.28,544.65M415.68,544.65L420.88,544.65" stroke="#4e1d66" stroke-width="1.15" fill="none"/><path d="M430.2,529.61L430.2,530.19M427.6,529.61L432.8,529.61M430.2,536.39L430.2,536.98M427.6,536.98L432.8,536.98" stroke="#4e1d66" stroke-width="1.15" fill="none"/><path d="M445.1,527.54L445.1,528.87M442.5,527.54L447.7,527.54M445.1,535.07L445.1,536.39M442.5,536.39L447.7,536.39" stroke="#4e1d66" stroke-width="1.15" fill="none"/><path d="M457.02,539.63L457.02,538.3M454.42,539.63L459.62,539.63M457.02,544.5L457.02,543.17M454.42,543.17L459.62,543.17" stroke="#4e1d66" stroke-width="1.15" fill="none"/><path d="M468.94,524.88L468.94,526.21M466.34,524.88L471.54,524.88M468.94,532.41L468.94,533.74M466.34,533.74L471.54,533.74" stroke="#4e1d66" stroke-width="1.15" fill="none"/><path d="M480.86,529.61L480.86,530.93M478.26,529.61L483.46,529.61M480.86,537.13L480.86,538.46M478.26,538.46L483.46,538.46" stroke="#4e1d66" stroke-width="1.15" fill="none"/><path d="M492.78,527.98L492.78,528.57M490.18,527.98L495.38,527.98M492.78,534.77L492.78,535.36M490.18,535.36L495.38,535.36" stroke="#4e1d66" stroke-width="1.15" fill="none"/><polyline points="325.9,568.25 340.8,558.66 355.7,561.02 367.62,539.19 379.54,531.38 391.46,529.01 403.38,530.2 418.28,535.8 430.2,533.29 445.1,531.97 457.02,541.4 468.94,529.31 480.86,534.03 492.78,531.67" fill="none" stroke="#4e1d66" stroke-width="1.2"/><circle cx="325.9" cy="568.25" r="3.1" fill="none" stroke="#4e1d66" stroke-width="1.3"/><circle cx="340.8" cy="558.66" r="3.1" fill="none" stroke="#4e1d66" stroke-width="1.3"/><circle cx="355.7" cy="561.02" r="3.1" fill="none" stroke="#4e1d66" stroke-width="1.3"/><circle cx="367.62" cy="539.19" r="3.1" fill="none" stroke="#4e1d66" stroke-width="1.3"/><circle cx="379.54" cy="531.38" r="3.1" fill="none" stroke="#4e1d66" stroke-width="1.3"/><circle cx="391.46" cy="529.01" r="3.1" fill="none" stroke="#4e1d66" stroke-width="1.3"/><circle cx="403.38" cy="530.2" r="3.1" fill="none" stroke="#4e1d66" stroke-width="1.3"/><circle cx="418.28" cy="535.8" r="3.1" fill="none" stroke="#4e1d66" stroke-width="1.3"/><circle cx="430.2" cy="533.29" r="3.1" fill="none" stroke="#4e1d66" stroke-width="1.3"/><circle cx="445.1" cy="531.97" r="3.1" fill="none" stroke="#4e1d66" stroke-width="1.3"/><circle cx="457.02" cy="541.4" r="3.1" fill="none" stroke="#4e1d66" stroke-width="1.3"/><circle cx="468.94" cy="529.31" r="3.1" fill="none" stroke="#4e1d66" stroke-width="1.3"/><circle cx="480.86" cy="534.03" r="3.1" fill="none" stroke="#4e1d66" stroke-width="1.3"/><circle cx="492.78" cy="531.67" r="3.1" fill="none" stroke="#4e1d66" stroke-width="1.3"/><path d="M340.8,557.48L340.8,558.62M338.2,557.48L343.4,557.48M340.8,563.72L340.8,564.86M338.2,564.86L343.4,564.86" stroke="#b8113c" stroke-width="1.15" fill="none"/><polyline points="325.9,568.25 340.8,561.17 355.7,568.25 367.62,568.25 379.54,568.25 391.46,568.25 403.38,568.25 418.28,568.25 430.2,568.25 445.1,568.25 457.02,568.25 468.94,568.25 480.86,568.25 492.78,568.25" fill="none" stroke="#b8113c" stroke-width="1.2"/><rect x="323.35" y="565.7" width="5.1" height="5.1" fill="none" stroke="#b8113c" stroke-width="1.5"/><rect x="338.25" y="558.62" width="5.1" height="5.1" fill="none" stroke="#b8113c" stroke-width="1.5"/><rect x="353.15" y="565.7" width="5.1" height="5.1" fill="none" stroke="#b8113c" stroke-width="1.5"/><rect x="365.07" y="565.7" width="5.1" height="5.1" fill="none" stroke="#b8113c" stroke-width="1.5"/><rect x="376.99" y="565.7" width="5.1" height="5.1" fill="none" stroke="#b8113c" stroke-width="1.5"/><rect x="388.91" y="565.7" width="5.1" height="5.1" fill="none" stroke="#b8113c" stroke-width="1.5"/><rect x="400.83" y="565.7" width="5.1" height="5.1" fill="none" stroke="#b8113c" stroke-width="1.5"/><rect x="415.73" y="565.7" width="5.1" height="5.1" fill="none" stroke="#b8113c" stroke-width="1.5"/><rect x="427.65" y="565.7" width="5.1" height="5.1" fill="none" stroke="#b8113c" stroke-width="1.5"/><rect x="442.55" y="565.7" width="5.1" height="5.1" fill="none" stroke="#b8113c" stroke-width="1.5"/><rect x="454.47" y="565.7" width="5.1" height="5.1" fill="none" stroke="#b8113c" stroke-width="1.5"/><rect x="466.39" y="565.7" width="5.1" height="5.1" fill="none" stroke="#b8113c" stroke-width="1.5"/><rect x="478.31" y="565.7" width="5.1" height="5.1" fill="none" stroke="#b8113c" stroke-width="1.5"/><rect x="490.23" y="565.7" width="5.1" height="5.1" fill="none" stroke="#b8113c" stroke-width="1.5"/><circle cx="365.7" cy="489.2" r="1.2" fill="#111"/><circle cx="369.5" cy="489.2" r="1.2" fill="#111"/><circle cx="377.8" cy="495.4" r="1.2" fill="#111"/><circle cx="381.6" cy="495.4" r="1.2" fill="#111"/><circle cx="401.5" cy="493.8" r="1.2" fill="#111"/><circle cx="405.3" cy="493.8" r="1.2" fill="#111"/><circle cx="416.3" cy="494.6" r="1.2" fill="#111"/><circle cx="420.1" cy="494.6" r="1.2" fill="#111"/><circle cx="428.1" cy="489.2" r="1.2" fill="#111"/><circle cx="431.9" cy="489.2" r="1.2" fill="#111"/><path d="M325.4,623.5L337.7,623.5" stroke="#b8113c" stroke-width="1.4"/><rect x="328.85" y="620.8" width="5.4" height="5.4" fill="none" stroke="#b8113c" stroke-width="1.5"/><text x="344.8" y="626.8" font-size="11.1" fill="#111" stroke="#111" stroke-width="0.18">BM</text><path d="M325.4,636.6L337.7,636.6" stroke="#23437f" stroke-width="1.4"/><rect x="328.75" y="633.8" width="5.6" height="5.6" fill="#23437f"/><text x="344.8" y="640.6" font-size="11.1" fill="#111" stroke="#111" stroke-width="0.18">BM+Tcon</text><path d="M325.4,652.4L337.7,652.4" stroke="#5ca63a" stroke-width="1.4"/><path d="M328.69,649.65L334.41,649.65L331.55,655.7Z" fill="#5ca63a"/><text x="344.8" y="655.9" font-size="11.1" fill="#111" stroke="#111" stroke-width="0.18">BM+WT Tcon+WT <tspan font-style="italic">i</tspan>NKT</text><path d="M325.4,667.8L337.7,667.8" stroke="#4e1d66" stroke-width="1.4"/><circle cx="331.55" cy="667.8" r="2.94" fill="none" stroke="#4e1d66" stroke-width="1.3"/><text x="344.8" y="670.8" font-size="11.1" fill="#111" stroke="#111" stroke-width="0.18">BM+TIM-1<tspan font-size="6.3" dy="-4.7">-/-</tspan><tspan dy="4.7"> Tcon+WT </tspan><tspan font-style="italic">i</tspan>NKT</text><path d="M325.4,680.8L337.7,680.8" stroke="#de8c14" stroke-width="1.4"/><circle cx="331.55" cy="680.8" r="2.85" fill="#de8c14"/><text x="344.8" y="684.7" font-size="11.1" fill="#111" stroke="#111" stroke-width="0.18">BM+WT Tcon+TIM<tspan font-size="6.3" dy="-4.7">-/-</tspan><tspan dy="4.7"> </tspan><tspan font-style="italic">i</tspan>NKT</text><rect x="0.75" y="0.75" width="518.5" height="707.5" fill="none" stroke="#000" stroke-width="1.5"/></svg></body></html>
